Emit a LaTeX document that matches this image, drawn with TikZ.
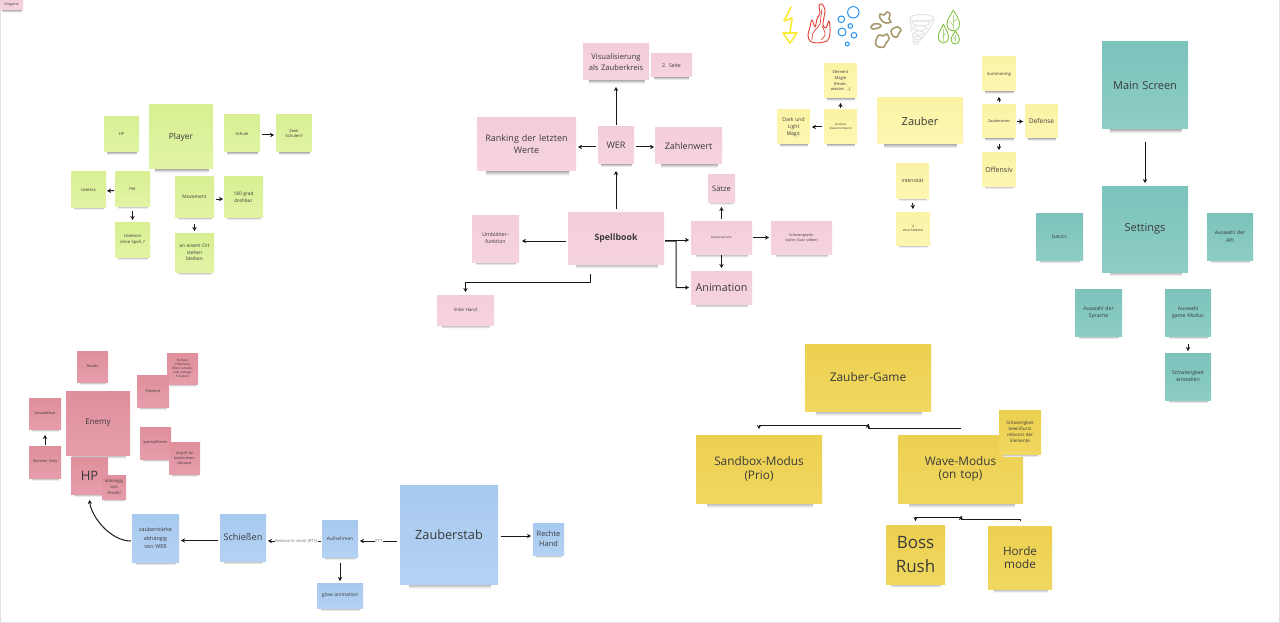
\documentclass[tikz,border=0pt]{standalone}
\usepackage{fontspec}
\setmainfont{Open Sans}
\usetikzlibrary{arrows.meta,calc}
\definecolor{ink}{HTML}{3A3A3A}
\definecolor{framegray}{HTML}{E2E2E2}
\tikzset{
  greennote/.style={top color={rgb,255:red,216;green,239;blue,146},bottom color={rgb,255:red,225;green,244;blue,165}},
  pinknote/.style={top color={rgb,255:red,244;green,205;blue,220},bottom color={rgb,255:red,246;green,211;blue,225}},
  yellownote/.style={top color={rgb,255:red,251;green,243;blue,165},bottom color={rgb,255:red,253;green,246;blue,178}},
  tealnote/.style={top color={rgb,255:red,124;green,195;blue,187},bottom color={rgb,255:red,141;green,205;blue,197}},
  rednote/.style={top color={rgb,255:red,224;green,143;blue,156},bottom color={rgb,255:red,230;green,157;blue,170}},
  bluenote/.style={top color={rgb,255:red,168;green,201;blue,239},bottom color={rgb,255:red,179;green,210;blue,243}},
  goldnote/.style={top color={rgb,255:red,236;green,208;blue,80},bottom color={rgb,255:red,240;green,215;blue,96}},
  notebox/.style={rectangle,draw=none,inner sep=0pt,outer sep=0pt,align=center,text=ink},
  arr/.style={-{Stealth[length=4pt,width=4.4pt]},line width=1pt,black!90},
  edgelabel/.style={fill=white,inner sep=.2pt,text=black!55,font=\fontsize{4.1}{5.5}\selectfont},
  iconline/.style={line width=1pt,line join=round,line cap=round}
}
% name, x0, y0, x1, y1, colour style, font size, text
\newcommand{\sticky}[8]{%
  \pgfmathsetmacro{\nw}{#4-#2}%
  \pgfmathsetmacro{\nh}{#5-#3}%
  \pgfmathsetmacro{\shh}{min(4.5,1.6+\nw/35)}%
  \pgfmathsetmacro{\fl}{#7*1.36}%
  \shade[top color=black!32,bottom color=white] ({#2+.09*\nw},#5) rectangle ({#4-.07*\nw},{#5+\shh});
  \node[notebox,#6,minimum width=\nw pt,minimum height=\nh pt,text width={\nw pt-1pt},font={\fontsize{#7}{\fl}\selectfont}] (#1) at ({(#2+#4)/2},{(#3+#5)/2}) {#8};
}
\begin{document}
\begin{tikzpicture}[x=1pt,y=-1pt]
\useasboundingbox (0,0) rectangle (1280,623);
\fill[white] (0,0) rectangle (1280,623);
\draw[framegray,line width=1pt] (.3,0) -- (.3,622.5) -- (1279.5,622.5) -- (1279.5,0);

% top-left tag
\sticky{origame}{0}{0}{23}{10}{pinknote}{3.6}{Origame}

% green
\sticky{player}{149}{105}{213}{169}{greennote}{8.4}{Player}
\sticky{ghp}{104}{117}{139}{152}{greennote}{4}{HP}
\sticky{schule}{224}{115}{260}{152}{greennote}{4.2}{Schule}
\sticky{zwei}{276}{115}{312}{152}{greennote}{4.2}{Zwei\\Schulen?}
\sticky{useless}{71}{172}{106}{207}{greennote}{4.2}{Useless}
\sticky{pet}{115}{172}{150}{206}{greennote}{4.2}{Pet}
\sticky{uselessn}{115}{222}{150}{257}{greennote}{4.2}{Uselessn\\ohne Spell..?}
\sticky{movement}{175}{177}{214}{217}{greennote}{4.8}{Movement}
\sticky{grad}{224}{177}{263}{217}{greennote}{4.8}{180 grad\\drehbar}
\sticky{ort}{175}{233}{214}{272}{greennote}{4.8}{an einem Ort\\stehen\\bleiben}

\draw[arr,shorten <=2pt,shorten >=2pt] ([yshift=-1.5pt]schule.east) -- ([yshift=-1.5pt]zwei.west);
\draw[arr,shorten <=1pt,shorten >=1pt] ([yshift=-1.5pt]pet.west) -- ([yshift=-1.5pt]useless.east);
\draw[arr,shorten <=5pt,shorten >=2pt] (pet.south) -- (uselessn.north);
\draw[arr,shorten <=2pt,shorten >=1pt] ([yshift=-2pt]movement.east) -- ([yshift=-2pt]grad.west);
\draw[arr,shorten <=7pt,shorten >=2pt] (movement.south) -- (ort.north);

% pink
\sticky{visu}{583}{44}{649}{80}{pinknote}{7.6}{Visualisierung\\als Zauberkreis}
\sticky{seite}{651}{54}{692}{77}{pinknote}{5.2}{2. Seite}
\sticky{ranking}{477}{118}{576}{171}{pinknote}{9}{Ranking der letzten\\Werte}
\sticky{wer}{598}{127}{634}{164}{pinknote}{9}{WER}
\sticky{zahlen}{655}{128}{722}{164}{pinknote}{9}{Zahlenwert}
\sticky{saetze}{708}{175}{735}{202}{pinknote}{7.5}{Sätze}
\sticky{spell}{568}{212}{664}{264}{pinknote}{8.8}{\bfseries Spellbook}
\sticky{umbl}{472}{215}{519}{262}{pinknote}{5.2}{Umblätter-\\funktion}
\sticky{spruche}{691}{221}{752}{254}{pinknote}{2.9}{Zaubersprüche}
\sticky{stufen}{771}{221}{832}{254}{pinknote}{3.6}{Schwierigkeits-\\stufen (Satz selber)}
\sticky{anim}{691}{271}{752}{304}{pinknote}{10.8}{Animation}
\sticky{linke}{437}{295}{494}{325}{pinknote}{4.6}{linke Hand}

\draw[arr,shorten <=2pt,shorten >=7pt] (wer.north) -- (visu.south);
\draw[arr,shorten <=3pt,shorten >=7pt] (spell.north) -- (wer.south);
\draw[arr,shorten <=2pt,shorten >=2pt] ([yshift=-1.5pt]wer.west) -- ([yshift=-1.5pt]wer.west -| ranking.east);
\draw[arr,shorten <=2pt,shorten >=1pt] ([yshift=-1.5pt]wer.east) -- ([yshift=-1.5pt]wer.east -| zahlen.west);
\draw[arr,shorten <=2pt,shorten >=3pt] ([yshift=-3pt]spell.west) -- ([yshift=-3pt]spell.west -| umbl.east);
\draw[arr,shorten <=1pt,shorten >=2pt] ([yshift=-2pt]spell.east) -- ([yshift=-2pt]spell.east -| spruche.west);
\draw[arr,shorten <=1pt,shorten >=2pt,rounded corners=.5pt] ([yshift=-3pt]spell.east) -- ++(12,0) |- (anim.west);
\draw[arr,shorten <=10pt,shorten >=3pt] ([xshift=-26pt]spell.south) -- ++(0,18) -| (linke.north);
\draw[arr,shorten <=2pt,shorten >=5pt] (spruche.north) -- (saetze.south);
\draw[arr,shorten <=1pt,shorten >=3pt] (spruche.south) -- (anim.north);
\draw[arr,shorten <=1pt,shorten >=2pt] (spruche.east) -- (stufen.west);

% yellow
\sticky{zauber}{877}{98}{963}{144}{yellownote}{11}{Zauber}
\sticky{elmagie}{824}{64}{857}{98}{yellownote}{4.1}{Element\\Magie\\(Feuer,\\wasser ...)}
\sticky{schulen}{824}{110}{857}{144}{yellownote}{2.9}{element\\(Zauberschulen)}
\sticky{dark}{777}{110}{810}{144}{yellownote}{5.1}{Dark und\\Light\\Magic}
\sticky{intens}{896}{164}{929}{198}{yellownote}{5}{intensität}
\sticky{vier}{896}{212}{930}{245}{yellownote}{3.3}{4\\verschiedene}
\sticky{summon}{982}{57}{1016}{91}{yellownote}{4.2}{Summoning}
\sticky{arten}{982}{105}{1016}{138}{yellownote}{3.8}{Zauberarten}
\sticky{defense}{1025}{105}{1058}{138}{yellownote}{6.5}{Defense}
\sticky{offensiv}{982}{153}{1016}{186}{yellownote}{7}{Offensiv}

\draw[arr,shorten <=2pt,shorten >=5pt] (schulen.north) -- (elmagie.south);
\draw[arr,shorten <=2pt,shorten >=2pt] (schulen.west) -- (dark.east);
\draw[arr,shorten <=5pt,shorten >=3pt] (intens.south) -- (vier.north);
\draw[arr,shorten <=3pt,shorten >=6pt] (arten.north) -- (summon.south);
\draw[arr,shorten <=1pt,shorten >=2pt] (arten.east) -- (defense.west);
\draw[arr,shorten <=6pt,shorten >=3pt] (arten.south) -- (offensiv.north);

% teal
\sticky{mainscr}{1102}{42}{1188}{129}{tealnote}{11}{Main Screen}
\sticky{settings}{1102}{186}{1188}{272}{tealnote}{11}{Settings}
\sticky{basics}{1036}{213}{1083}{260}{tealnote}{5.2}{basics}
\sticky{api}{1207}{213}{1253}{260}{tealnote}{5.2}{Auswahl der\\API}
\sticky{sprache}{1075}{289}{1122}{336}{tealnote}{5.2}{Auswahl der\\Sprache}
\sticky{modus}{1165}{289}{1211}{336}{tealnote}{5.2}{Auswahl\\game Modus}
\sticky{schwer}{1165}{353}{1211}{400}{tealnote}{5.2}{Schwierigkeit\\einstellen}

\draw[arr,shorten <=13pt,shorten >=3pt] (mainscr.south) -- (settings.north);
\draw[arr,shorten <=8pt,shorten >=2pt] (modus.south) -- (schwer.north);

% red
\sticky{anzahl}{77}{351}{108}{382}{rednote}{3.8}{Anzahl}
\sticky{effekt}{167}{353}{198}{384}{rednote}{3}{Element\\Effektivitat\\(Mehr schaden\\oder weniger\\Schaden)}
\sticky{relement}{137}{375}{169}{407}{rednote}{3.8}{Element}
\sticky{enemy}{66}{391}{130}{455}{rednote}{8}{Enemy}
\sticky{auswahl}{29}{398}{61}{429}{rednote}{3.8}{Auswählbar}
\sticky{monster}{29}{446}{61}{478}{rednote}{3.8}{Monster Only}
\sticky{rhp}{71}{457}{108}{494}{rednote}{13}{HP}
\sticky{abh}{102}{475}{126}{499}{rednote}{4.2}{abhängig\\von\\Anzahl}
\sticky{patrou}{140}{427}{171}{459}{rednote}{3.8}{patrouillieren}
\sticky{angriff}{169}{442}{200}{474}{rednote}{3.6}{Angriff ab\\bestimmten\\Abstand}

\draw[arr,shorten <=1pt,shorten >=6pt] (monster.north) -- (auswahl.south);

% blue
\sticky{staerke}{132}{514}{179}{562}{bluenote}{5.4}{zauberstärke\\[.8pt]abhängig\\[.8pt]von WER}
\sticky{schiess}{220}{514}{266}{561}{bluenote}{9.1}{Schießen}
\sticky{aufn}{322}{520}{358}{557}{bluenote}{4.8}{Aufnehmen}
\sticky{glow}{317}{583}{363}{608}{bluenote}{5}{glow animation}
\sticky{stab}{400}{485}{498}{584}{bluenote}{12.7}{Zauberstab}
\sticky{rechte}{533}{523}{564}{555}{bluenote}{7.4}{Rechte\\Hand}

\draw[arr,shorten <=3pt,shorten >=2pt] ([yshift=-1.5pt]stab.east) -- ([yshift=-1.5pt]stab.east -| rechte.west);
\draw[arr,shorten <=3pt,shorten >=2pt] ([yshift=-6.5pt]stab.west) -- node[edgelabel,pos=.5] {PTT} ([yshift=-6.5pt]stab.west -| aufn.east);
\draw[arr,shorten <=1pt,shorten >=2pt] ([yshift=-2.5pt]aufn.west) -- node[edgelabel,pos=.46] {Release to shoot (RTS)} ([yshift=-2.5pt]aufn.west -| schiess.east);
\draw[arr,shorten <=2pt,shorten >=2pt] ([yshift=-3pt]schiess.west) -- ([yshift=-3pt]schiess.west -| staerke.east);
\draw[arr,shorten <=6pt,shorten >=2pt] (aufn.south) -- (aufn.south |- glow.north);
\draw[arr,shorten <=1pt,shorten >=6pt] ([yshift=-3pt]staerke.west) .. controls +(-22,0) and +(2,22) .. ([xshift=-.5pt]rhp.south);

% gold
\sticky{game}{805}{344}{931}{411}{goldnote}{11.9}{Zauber-Game}
\sticky{sandbox}{696}{435}{822}{503}{goldnote}{11.8}{Sandbox-Modus\\[-2.2pt](Prio)}
\sticky{wave}{898}{435}{1023}{503}{goldnote}{11.8}{Wave-Modus\\[-2.2pt](on top)}
\sticky{beein}{999}{410}{1041}{454}{goldnote}{4.5}{Schwierigkeit\\beeinflusst\\relevanz der\\Elemente}
\sticky{boss}{886}{525}{945}{584}{goldnote}{17}{Boss\\Rush}
\sticky{horde}{988}{526}{1052}{589}{goldnote}{11.7}{Horde\\[-3.5pt]mode}

\coordinate (gj) at (868,424);
\coordinate (hj) at (961,516);
\draw[arr,shorten >=6pt] (gj) -- ++(0,1.5) -| (sandbox.north);
\draw[arr,shorten <=6pt] (wave.north) |- ([yshift=-4pt]gj) -- (gj);
\draw[arr,shorten >=4pt] (hj) -- ++(0,1.5) -| (boss.north);
\draw[arr,shorten <=5pt] (horde.north) |- ([yshift=-3.5pt]hj) -- (hj);

% element icons
% lightning
\draw[iconline,draw={rgb,255:red,250;green,235;blue,60},line width=1.7pt]
  (791,7) -- (784,21) -- (792,18) -- (790,33) (783,33) -- (797,33) -- (790,43) -- cycle;
% fire
\draw[iconline,draw={rgb,255:red,226;green,62;blue,48},line width=.9pt]
  plot[smooth,tension=.6] coordinates {(816,43) (810,41) (808,35) (810,27) (812,20) (815,27) (817,19) (820,13) (819,6) (822,4) (825,10) (824,17) (823,25) (826,28) (829,21) (830,33) (827,41) (816,43)};
\draw[iconline,draw={rgb,255:red,226;green,62;blue,48},line width=.7pt]
  plot[smooth,tension=.6] coordinates {(812,40) (813,33) (817,28) (820,24) (821,16) (822,9)};
\draw[iconline,draw={rgb,255:red,226;green,62;blue,48},line width=.7pt]
  plot[smooth,tension=.6] coordinates {(821,40) (825,35) (824,30) (822,26)};
% bubbles
\foreach \bx/\by/\br in {853.3/12.3/5.7,841.3/19.3/3.3,850.3/26/2.3,842/32/4,854/35.3/2.8,847.3/44/2}
  \draw[draw={rgb,255:red,40;green,145;blue,235},line width=1pt] (\bx,\by) circle[radius=\br pt];
% rocks
\begin{scope}[iconline,draw={rgb,255:red,168;green,152;blue,110},line width=1.6pt]
  \draw plot[smooth cycle,tension=.6] coordinates {(880,14) (884,15) (887,12) (890,14) (889,19) (891,22) (886,23) (882,21) (880,18)};
  \draw plot[smooth cycle,tension=.6] coordinates {(871,27) (874,24) (879,24) (881,26) (878,28) (873,29)};
  \draw plot[smooth cycle,tension=.6] coordinates {(891,31) (894,28) (898,27) (901,30) (899,33) (897,37) (893,36)};
  \draw plot[smooth cycle,tension=.6] coordinates {(876,40) (879,35) (883,36) (887,34) (889,39) (886,43) (884,47) (879,47) (876,45)};
\end{scope}
% tornado
\begin{scope}[draw={rgb,255:red,230;green,230;blue,230},line width=1.1pt]
  \draw (922,18) ellipse[x radius=12pt,y radius=3.5pt];
  \draw (921,23) ellipse[x radius=9pt,y radius=2.5pt];
  \draw (920,28) ellipse[x radius=7pt,y radius=2.2pt];
  \draw (919,33) ellipse[x radius=5pt,y radius=2pt];
  \draw (917.5,38) ellipse[x radius=3.5pt,y radius=1.8pt];
  \draw (916,43) ellipse[x radius=2.2pt,y radius=1.5pt];
  \draw (910,18.5) .. controls (911,28) and (913,38) .. (914,43);
  \draw (934,18.5) .. controls (932,28) and (924,36) .. (918,43);
\end{scope}
% leaves
\begin{scope}[iconline,draw={rgb,255:red,135;green,196;blue,70},line width=.9pt]
  \draw (953.3,10) .. controls (956,15) and (959.5,19) .. (959.5,24) .. controls (959.5,33) and (947,33) .. (947,24) .. controls (947,19) and (951,15) .. (953.3,10) -- cycle;
  \draw (943.3,24) .. controls (945,28) and (948.5,32) .. (948.5,37) .. controls (948.5,45) and (938.3,45) .. (938.3,37) .. controls (938.3,32) and (942,28) .. (943.3,24) -- cycle;
  \draw (955.3,31) .. controls (957,34) and (959.5,36.5) .. (959.5,39.5) .. controls (959.5,45.5) and (951,45.5) .. (951,39.5) .. controls (951,36.5) and (954,34) .. (955.3,31) -- cycle;
  \begin{scope}[line width=.4pt]
    \draw (953.3,15) -- (953.3,29) (953.3,22) -- (957,19) (953.3,25) -- (949.5,22) (943.3,29) -- (943.3,41) (943.3,36) -- (946,33) (955.3,35) -- (955.3,42) (955.3,39) -- (953,37);
  \end{scope}
\end{scope}
\end{tikzpicture}
\end{document}
